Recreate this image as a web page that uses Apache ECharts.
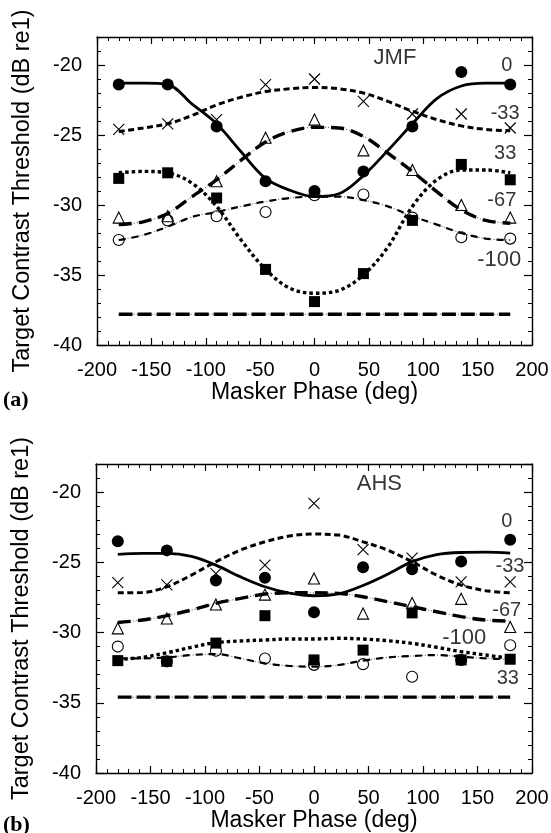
<!DOCTYPE html>
<html>
<head>
<meta charset="utf-8">
<script src="https://cdn.jsdelivr.net/npm/echarts@6/dist/echarts.min.js"></script>
<style>
html, body { margin: 0; padding: 0; background: #fff; }
#chart { width: 551px; height: 833px; }
</style>
</head>
<body>
<div id="chart"></div>
<script>
// masker phases where thresholds were measured (deg)
const phases = [-180, -135, -90, -45, 0, 45, 90, 135, 180];
const curveX = [-180, -157.5, -135, -112.5, -90, -67.5, -45, -22.5, 0, 22.5, 45, 67.5, 90, 112.5, 135, 157.5, 180];
const baseX = [-180, 180];

// (a) JMF - measured points
const jmfP0 = [-21.4, -21.4, -24.4, -28.3, -29.0, -27.6, -24.4, -20.5, -21.4];
const jmfPm33 = [-24.6, -24.2, -23.9, -21.4, -21.0, -22.6, -23.5, -23.5, -24.5];
const jmfPm67 = [-30.9, -30.8, -28.3, -25.2, -23.9, -26.1, -27.5, -30.0, -30.9];
const jmfPm100 = [-32.5, -31.1, -30.8, -30.5, -29.3, -29.25, -30.9, -32.3, -32.4];
const jmfP33 = [-28.1, -27.7, -29.5, -34.6, -36.9, -34.9, -31.1, -27.1, -28.2];
// (a) JMF - fitted curves
const jmfF0 = [-21.3, -21.3, -21.4, -22.8, -24.2, -26.2, -28.1, -28.95, -29.4, -29.2, -27.9, -26.1, -24.2, -22.4, -21.5, -21.3, -21.3];
const jmfFm33 = [-24.75, -24.5, -24.2, -23.6, -22.85, -22.3, -21.9, -21.7, -21.6, -21.7, -22.0, -22.6, -23.3, -23.9, -24.35, -24.6, -24.7];
const jmfFm67 = [-31.4, -31.2, -30.6, -29.4, -28.2, -26.8, -25.5, -24.75, -24.45, -24.5, -25.1, -26.3, -27.6, -29.05, -30.35, -31.1, -31.3];
const jmfFm100 = [-32.5, -32.15, -31.55, -30.85, -30.5, -30.1, -29.75, -29.5, -29.4, -29.4, -29.65, -30.1, -30.8, -31.4, -32.0, -32.4, -32.5];
const jmfF33 = [-27.7, -27.6, -27.7, -28.45, -30.1, -32.5, -34.6, -35.95, -36.3, -36.1, -35.0, -33.0, -30.1, -28.2, -27.5, -27.5, -27.7];
const jmfBase = [-37.8, -37.8];

// (b) AHS - measured points
const ahsP0 = [-23.5, -24.15, -26.3, -26.1, -28.55, -25.35, -25.5, -24.95, -23.4];
const ahsPm33 = [-26.45, -26.6, -25.8, -25.2, -20.8, -24.1, -24.7, -26.4, -26.4];
const ahsPm67 = [-29.7, -29.0, -28.0, -27.3, -26.15, -28.65, -27.9, -27.6, -29.6];
const ahsPm100 = [-31.0, -32.05, -31.3, -31.85, -32.3, -32.25, -33.15, -31.95, -30.9];
const ahsP33 = [-32.0, -32.05, -30.75, -28.8, -31.95, -31.25, -28.6, -31.95, -31.9];
// (b) AHS - fitted curves
const ahsF0 = [-24.43, -24.37, -24.37, -24.58, -25.2, -26.03, -26.74, -27.2, -27.38, -27.25, -26.65, -25.85, -24.95, -24.45, -24.3, -24.28, -24.35];
const ahsFm33 = [-27.17, -27.15, -26.74, -25.91, -24.96, -24.13, -23.54, -23.13, -22.99, -23.06, -23.54, -24.13, -24.96, -25.91, -26.62, -27.02, -27.17];
const ahsFm67 = [-29.28, -29.11, -28.8, -28.4, -27.92, -27.57, -27.26, -27.17, -27.17, -27.21, -27.45, -27.8, -28.16, -28.52, -28.87, -29.11, -29.18];
const ahsFm100 = [-31.84, -31.84, -31.77, -31.6, -31.53, -31.84, -32.19, -32.38, -32.43, -32.31, -32.0, -31.77, -31.67, -31.6, -31.72, -31.84, -31.91];
const ahsF33 = [-31.91, -31.77, -31.44, -31.05, -30.72, -30.6, -30.53, -30.46, -30.46, -30.41, -30.46, -30.58, -30.77, -31.05, -31.36, -31.6, -31.84];
const ahsBase = [-34.6, -34.6];

// text labels inside the panels
const curveNames = ['0', '-33', '33', '-67', '-100'];
const jmfLabelX = [182.5, 189, 186, 186, 190.5];
const jmfLabelY = [-20.0, -23.45, -26.3, -29.65, -33.95];
const ahsNames = ['0', '-33', '-67', '-100', '33'];
const ahsLabelX = [182.5, 193.5, 190.5, 158.5, 188.5];
const ahsLabelY = [-22.1, -25.3, -28.4, -30.4, -33.3];
const subjects = ['JMF', 'AHS'];
const subjectX = [74, 60];
const subjectY = [-19.5, -19.4];

const FONT = '"Liberation Sans", Arial, Helvetica, sans-serif';
const chart = echarts.init(document.getElementById('chart'));

const grids = [
    { left: 97, top: 37, width: 435, height: 308, outerBoundsMode: 'none' },
    { left: 96, top: 464, width: 436, height: 309, outerBoundsMode: 'none' }
];

let xAxes = [], yAxes = [];
grids.forEach((gr, g) => {
    const line = { show: true, onZero: false, lineStyle: { color: '#000', width: 1.4 } };
    const xBase = {
        gridIndex: g, type: 'value', min: -200, max: 200, interval: 50,
        axisLine: line,
        axisTick: { show: true, inside: true, length: 7, lineStyle: { color: '#000', width: 1.2 } },
        minorTick: { show: true, splitNumber: 5, length: 4, lineStyle: { color: '#000', width: 1 } },
        splitLine: { show: false }
    };
    xAxes.push(Object.assign({}, xBase, {
        position: 'bottom',
        axisLabel: { fontSize: 20, color: '#000', margin: 15, fontFamily: FONT, showMinLabel: true, showMaxLabel: true },
        name: 'Masker Phase (deg)', nameLocation: 'middle', nameGap: g === 0 ? 32 : 36,
        nameTextStyle: { fontSize: 23, color: '#000', fontFamily: FONT }
    }));
    xAxes.push(Object.assign({}, xBase, { position: 'top', axisLabel: { show: false } }));

    // major ticks every 5 dB, minor every 1 dB, on both sides
    ['left', 'right'].forEach(side => {
        yAxes.push({
            gridIndex: g, type: 'value', min: -40, max: -18, interval: 5, position: side,
            axisLine: line,
            axisTick: { show: true, inside: true, length: 8, lineStyle: { color: '#000', width: 1.2 } },
            axisLabel: side === 'left'
                ? { fontSize: 20, color: '#000', margin: 15, fontFamily: FONT, showMaxLabel: false }
                : { show: false },
            splitLine: { show: false },
            name: side === 'left' ? 'Target Contrast Threshold (dB re1)' : '',
            nameLocation: 'middle', nameGap: 62,
            nameTextStyle: { fontSize: 23.5, color: '#000', fontFamily: FONT }
        });
        yAxes.push({
            gridIndex: g, type: 'value', min: -40, max: -18, interval: 1, position: side,
            axisLine: { show: false, onZero: false },
            axisTick: { show: true, inside: true, length: 4, lineStyle: { color: '#000', width: 1 } },
            axisLabel: { show: false },
            splitLine: { show: false }
        });
    });
});

const thin = { color: '#000', width: 0.7, type: [1, 2] };

function curve(g, xs, ys, style) {
    return {
        type: 'line', xAxisIndex: g * 2, yAxisIndex: g * 4,
        data: xs.map((x, i) => [x, ys[i]]),
        smooth: 0.35, symbol: 'none', silent: true, z: 2,
        lineStyle: Object.assign({ color: '#000' }, style)
    };
}
function points(g, ys, symbol, size, filled) {
    return {
        type: 'scatter', xAxisIndex: g * 2, yAxisIndex: g * 4,
        data: phases.map((x, i) => [x, ys[i]]),
        symbol: symbol, symbolSize: size, silent: true, z: 5,
        itemStyle: filled ? { color: '#000', opacity: 1 }
            : { color: 'rgba(0,0,0,0)', borderColor: '#000', borderWidth: 1.1, opacity: 1 }
    };
}
function texts(g, names, xs, ys, pos, size) {
    return {
        type: 'scatter', xAxisIndex: g * 2, yAxisIndex: g * 4,
        data: names.map((n, i) => ({
            name: n, value: [xs[i], ys[i]],
            label: { fontSize: n.length > 3 ? size + 2 : size }
        })),
        symbolSize: 1, itemStyle: { color: 'rgba(0,0,0,0)' }, silent: true, z: 6,
        label: { show: true, position: pos, distance: 0, formatter: '{b}', color: '#000', fontSize: size, fontFamily: FONT }
    };
}

const CROSS = 'path://M0,0L10,10M10,0L0,10';
const panels = [
    { p: [jmfP0, jmfPm33, jmfPm67, jmfPm100, jmfP33], f: [jmfF0, jmfFm33, jmfFm67, jmfFm100, jmfF33], base: jmfBase },
    { p: [ahsP0, ahsPm33, ahsPm67, ahsPm100, ahsP33], f: [ahsF0, ahsFm33, ahsFm67, ahsFm100, ahsF33], base: ahsBase }
];

let series = [];
panels.forEach((d, g) => {
    // fitted curves
    series.push(curve(g, curveX, d.f[0], { width: 2.8, type: 'solid' }));
    series.push(curve(g, curveX, d.f[1], { width: 3, type: [6, 3.5] }));
    series.push(curve(g, curveX, d.f[2], thin));
    series.push(curve(g, curveX, d.f[2], { width: 3.4, type: [13, 7] }));
    series.push(curve(g, curveX, d.f[3], thin));
    series.push(curve(g, curveX, d.f[3], { width: 2.2, type: [7, 6] }));
    series.push(curve(g, curveX, d.f[4], { width: 3.4, type: [3.5, 3] }));
    series.push(curve(g, baseX, d.base, thin));
    series.push(curve(g, baseX, d.base, { width: 3.4, type: [14, 5] }));
    // measured thresholds
    series.push(points(g, d.p[0], 'circle', 12, true));
    series.push(points(g, d.p[1], CROSS, 11, false));
    series.push(points(g, d.p[2], 'triangle', 11, false));
    series.push(points(g, d.p[3], 'circle', 11, false));
    series.push(points(g, d.p[4], 'rect', 11, true));
    series.push(texts(g, [subjects[g]], [subjectX[g]], [subjectY[g]], 'inside', 22));
});
series.push(texts(0, curveNames, jmfLabelX, jmfLabelY, 'left', 20));
series.push(texts(1, ahsNames, ahsLabelX, ahsLabelY, 'left', 20));

chart.setOption({
    backgroundColor: '#fff',
    animation: false,
    grid: grids,
    xAxis: xAxes,
    yAxis: yAxes,
    series: series,
    graphic: [
        { type: 'text', left: 3, top: 389, style: { text: '(a)', font: 'bold 22px "Liberation Serif", "Times New Roman", serif', fill: '#000' } },
        { type: 'text', left: 3, top: 814, style: { text: '(b)', font: 'bold 22px "Liberation Serif", "Times New Roman", serif', fill: '#000' } }
    ]
});
</script>
</body>
</html>
